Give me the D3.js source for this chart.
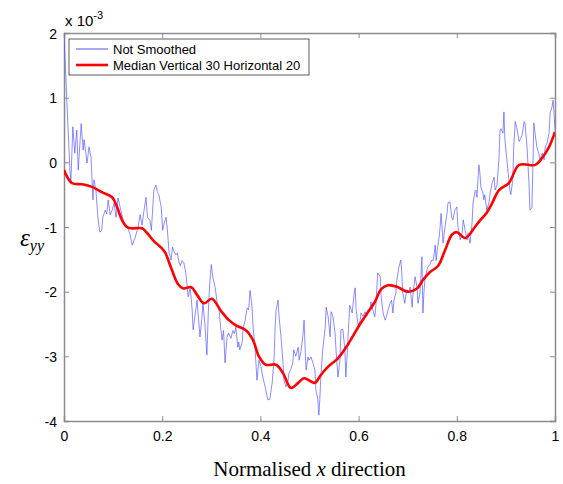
<!DOCTYPE html>
<html>
<head>
<meta charset="utf-8">
<script src="https://cdnjs.cloudflare.com/ajax/libs/d3/7.8.5/d3.min.js"></script>
<style>
  body { margin: 0; background: #fff; }
  svg { display: block; }
  .tick text { font-family: Arial, "Liberation Sans", sans-serif; font-size: 14px; fill: #000; }
</style>
</head>
<body>
<div id="chart"></div>
<script>
// x ticks and y ticks (y in units of 1e-3)
const xTicks = [0, 0.2, 0.4, 0.6, 0.8, 1];
const yTicks = [-4, -3, -2, -1, 0, 1, 2];
const legendLabels = ["Not Smoothed", "Median Vertical 30 Horizontal 20"];

// raw strain (x normalised, eps_yy * 1e3)
const notSmoothed = [
  [0.000, 2.0], [0.0055, 1.0], [0.012, -0.12], [0.014, -0.32], [0.018, 0.55], [0.022, 0.14],
  [0.026, 0.5], [0.029, -0.12], [0.035, 0.6], [0.039, 0.19], [0.041, 0.35], [0.047, -0.01],
  [0.051, 0.24], [0.055, 0.08], [0.059, -0.58], [0.061, -0.27], [0.065, -0.43], [0.069, -0.85],
  [0.073, -1.08], [0.077, -1.05], [0.079, -0.85], [0.084, -0.74], [0.087, -0.8], [0.09, -0.58],
  [0.094, -0.81], [0.098, -0.74], [0.102, -0.63], [0.106, -0.85], [0.11, -0.55], [0.116, -0.75],
  [0.122, -0.94], [0.128, -0.98], [0.134, -1.1], [0.139, -1.28], [0.145, -1.16], [0.151, -1.0],
  [0.155, -0.81], [0.159, -0.97], [0.163, -0.74], [0.167, -0.54], [0.17, -0.85], [0.175, -0.9],
  [0.178, -1.05], [0.183, -0.43], [0.187, -0.35], [0.19, -0.45], [0.193, -0.5], [0.198, -0.69],
  [0.201, -1.05], [0.204, -0.94], [0.208, -0.85], [0.211, -1.09], [0.214, -1.4], [0.218, -1.51],
  [0.221, -1.31], [0.224, -1.38], [0.228, -1.43], [0.231, -1.4], [0.234, -1.54], [0.237, -1.6],
  [0.24, -1.52], [0.244, -1.55], [0.248, -1.71], [0.251, -1.93], [0.253, -2.08], [0.257, -1.94],
  [0.261, -2.28], [0.263, -2.59], [0.267, -2.36], [0.271, -2.13], [0.273, -2.33], [0.277, -2.7],
  [0.281, -2.39], [0.283, -2.18], [0.287, -2.5], [0.291, -2.98], [0.294, -2.3], [0.297, -1.85],
  [0.3, -1.58], [0.303, -1.77], [0.308, -1.94], [0.312, -2.18], [0.316, -2.3], [0.319, -2.55],
  [0.322, -2.75], [0.325, -2.6], [0.328, -3.1], [0.332, -2.7], [0.335, -2.64], [0.34, -2.72],
  [0.344, -2.6], [0.347, -2.65], [0.35, -2.55], [0.354, -2.86], [0.356, -2.78], [0.358, -2.9],
  [0.363, -2.78], [0.365, -2.56], [0.369, -2.44], [0.373, -2.25], [0.376, -2.28], [0.379, -1.98],
  [0.383, -2.24], [0.385, -2.55], [0.389, -2.86], [0.393, -3.37], [0.395, -3.21], [0.397, -3.06],
  [0.401, -3.16], [0.405, -3.32], [0.411, -3.52], [0.415, -3.67], [0.419, -3.67], [0.424, -3.41],
  [0.428, -3.01], [0.43, -2.55], [0.432, -2.28], [0.436, -2.13], [0.438, -2.39], [0.442, -2.7],
  [0.446, -3.1], [0.448, -3.37], [0.452, -3.47], [0.456, -3.4], [0.458, -3.26], [0.462, -3.2],
  [0.466, -3.1], [0.468, -2.9], [0.472, -3.0], [0.477, -2.86], [0.479, -3.06], [0.483, -2.9],
  [0.487, -2.64], [0.489, -2.44], [0.491, -2.86], [0.493, -3.21], [0.497, -3.01], [0.499, -3.06],
  [0.503, -3.01], [0.507, -3.1], [0.511, -3.21], [0.513, -3.52], [0.517, -3.67], [0.519, -3.91],
  [0.521, -3.67], [0.523, -3.32], [0.527, -2.9], [0.532, -2.55], [0.534, -2.24], [0.538, -2.39],
  [0.542, -2.7], [0.544, -2.31], [0.548, -2.39], [0.552, -2.64], [0.554, -2.9], [0.558, -3.32],
  [0.562, -3.06], [0.564, -2.59], [0.568, -2.58], [0.572, -2.9], [0.574, -3.32], [0.576, -3.06],
  [0.58, -2.49], [0.582, -2.21], [0.587, -2.33], [0.591, -2.02], [0.593, -1.94], [0.595, -2.28],
  [0.599, -2.52], [0.603, -2.45], [0.605, -2.33], [0.609, -2.38], [0.613, -2.31], [0.617, -2.38],
  [0.619, -2.28], [0.623, -2.3], [0.625, -2.16], [0.629, -2.28], [0.633, -2.39], [0.635, -2.24],
  [0.639, -1.71], [0.644, -1.77], [0.646, -2.08], [0.65, -2.33], [0.654, -2.44], [0.657, -2.38],
  [0.66, -2.28], [0.664, -2.18], [0.667, -2.13], [0.67, -2.33], [0.672, -2.13], [0.676, -2.02],
  [0.678, -1.82], [0.682, -1.62], [0.686, -1.51], [0.688, -1.71], [0.69, -2.02], [0.694, -2.18],
  [0.698, -1.97], [0.702, -2.0], [0.705, -1.93], [0.709, -2.24], [0.711, -2.02], [0.715, -1.77],
  [0.719, -1.93], [0.721, -2.18], [0.725, -2.02], [0.729, -1.46], [0.731, -2.33], [0.733, -2.02],
  [0.735, -1.82], [0.739, -1.67], [0.741, -1.62], [0.745, -1.58], [0.749, -1.51], [0.752, -1.52],
  [0.756, -1.28], [0.758, -1.52], [0.76, -1.36], [0.764, -1.16], [0.766, -1.0], [0.768, -0.79],
  [0.77, -1.0], [0.772, -1.25], [0.776, -1.0], [0.78, -0.79], [0.782, -0.63], [0.786, -0.61],
  [0.79, -0.86], [0.792, -0.89], [0.796, -0.74], [0.8, -0.69], [0.802, -0.97], [0.807, -1.2],
  [0.811, -1.09], [0.813, -0.89], [0.817, -1.05], [0.821, -1.2], [0.823, -1.1], [0.827, -1.25],
  [0.831, -0.94], [0.833, -0.63], [0.837, -0.45], [0.839, -0.43], [0.841, -0.54], [0.845, -0.04],
  [0.847, -0.16], [0.849, -0.38], [0.853, -0.47], [0.855, -0.58], [0.857, -0.5], [0.861, -0.74],
  [0.866, -0.6], [0.868, -0.47], [0.872, -0.32], [0.876, -0.23], [0.878, -0.43], [0.882, -0.35],
  [0.886, 0.08], [0.888, 0.5], [0.89, 0.52], [0.894, 0.45], [0.896, 0.78], [0.898, 0.35],
  [0.902, 0.04], [0.906, -0.27], [0.908, -0.43], [0.91, -0.5], [0.914, -0.27], [0.916, 0.24],
  [0.919, 0.63], [0.923, 0.5], [0.927, 0.32], [0.929, 0.35], [0.933, 0.42], [0.937, 0.63],
  [0.939, 0.6], [0.943, 0.24], [0.947, -0.32], [0.949, -0.74], [0.953, -0.7], [0.957, 0.61],
  [0.959, 0.47], [0.963, 0.24], [0.967, 0.14], [0.969, 0.04], [0.974, 0.14], [0.978, 0.04],
  [0.98, 0.24], [0.984, 0.3], [0.988, 0.45], [0.99, 0.76], [0.994, 0.86], [0.996, 0.96],
  [0.998, 0.76], [1.0, 0.5]
];

// median-filtered strain
const medianSmoothed = [
  [0, -0.12], [0.016, -0.32], [0.037, -0.34], [0.057, -0.38], [0.077, -0.46], [0.098, -0.54],
  [0.108, -0.69], [0.118, -0.89], [0.128, -1.0], [0.138, -1.02], [0.159, -1.02], [0.17, -1.1],
  [0.183, -1.22], [0.204, -1.37], [0.218, -1.63], [0.232, -1.88], [0.243, -1.95], [0.259, -1.93],
  [0.271, -2.05], [0.285, -2.18], [0.301, -2.11], [0.32, -2.3], [0.336, -2.44], [0.35, -2.52],
  [0.371, -2.6], [0.385, -2.75], [0.397, -3.0], [0.411, -3.13], [0.432, -3.13], [0.446, -3.26],
  [0.462, -3.49], [0.477, -3.41], [0.489, -3.34], [0.503, -3.39], [0.511, -3.41], [0.523, -3.29],
  [0.538, -3.16], [0.558, -3.03], [0.578, -2.82], [0.599, -2.55], [0.615, -2.36], [0.633, -2.16],
  [0.646, -1.96], [0.66, -1.9], [0.68, -1.93], [0.7, -2.0], [0.719, -1.95], [0.731, -1.82],
  [0.745, -1.7], [0.762, -1.6], [0.776, -1.36], [0.79, -1.12], [0.8, -1.08], [0.817, -1.17],
  [0.837, -1.0], [0.845, -0.92], [0.861, -0.78], [0.872, -0.63], [0.886, -0.43], [0.906, -0.32],
  [0.927, -0.04], [0.96, -0.04], [0.974, 0.07], [0.988, 0.24], [1.0, 0.47]
];

const W = 563, H = 484;
const margin = { left: 64, right: 8, top: 33, bottom: 63 };

const svg = d3.select("#chart").append("svg")
  .attr("width", W)
  .attr("height", H);

const x = d3.scaleLinear().domain([0, 1]).range([margin.left, W - margin.right]);
const y = d3.scaleLinear().domain([-4, 2]).range([H - margin.bottom, margin.top]);

const axisColor = "#8c8c8c";

svg.append("defs").append("clipPath").attr("id", "plot-clip")
  .append("rect")
  .attr("x", x(0)).attr("y", y(2))
  .attr("width", x(1) - x(0)).attr("height", y(-4) - y(2));

// axes (MATLAB style box, ticks inside)
const xAxis = svg.append("g")
  .attr("transform", `translate(0,${y(-4)})`)
  .call(d3.axisBottom(x).tickValues(xTicks).tickSize(-5).tickPadding(10)
    .tickFormat(d => String(+d.toFixed(1))));
const xAxisTop = svg.append("g")
  .attr("transform", `translate(0,${y(2)})`)
  .call(d3.axisTop(x).tickValues(xTicks).tickSize(-5).tickFormat(""));
const yAxis = svg.append("g")
  .attr("transform", `translate(${x(0)},0)`)
  .call(d3.axisLeft(y).tickValues(yTicks).tickSize(-5).tickPadding(7)
    .tickFormat(d => String(d)));
const yAxisRight = svg.append("g")
  .attr("transform", `translate(${x(1)},0)`)
  .call(d3.axisRight(y).tickValues(yTicks).tickSize(-5).tickFormat(""));

[xAxis, xAxisTop, yAxis, yAxisRight].forEach(g => {
  g.select(".domain").attr("stroke", axisColor).attr("stroke-width", 1.5);
  g.selectAll(".tick line").attr("stroke", axisColor);
});
yAxis.selectAll(".tick text").attr("dy", "0.36em");

// exponent label
const expo = svg.append("text")
  .attr("x", x(0) + 1)
  .attr("y", y(2) - 7)
  .attr("font-family", "Arial, 'Liberation Sans', sans-serif")
  .attr("font-size", 15);
expo.append("tspan").text("x 10");
expo.append("tspan").attr("dy", -7).attr("font-size", 11).text("-3");

// lines
const line = d3.line()
  .x(d => x(d[0]))
  .y(d => y(d[1]));

const plot = svg.append("g").attr("clip-path", "url(#plot-clip)");

plot.append("path")
  .datum(notSmoothed)
  .attr("fill", "none")
  .attr("stroke", "#5555ff")
  .attr("stroke-opacity", 0.85)
  .attr("stroke-width", 0.8)
  .attr("stroke-linejoin", "round")
  .attr("d", line);

plot.append("path")
  .datum(medianSmoothed)
  .attr("fill", "none")
  .attr("stroke", "#ff0000")
  .attr("stroke-width", 2.6)
  .attr("stroke-linejoin", "round")
  .attr("d", line.curve(d3.curveCatmullRom.alpha(0.5)));

// legend
const legend = svg.append("g").attr("transform", "translate(69,39)");
legend.append("rect")
  .attr("width", 240).attr("height", 36)
  .attr("fill", "#fff")
  .attr("stroke", "#333").attr("stroke-width", 0.8);
const legendStyles = [
  { color: "#5555ff", width: 1 },
  { color: "#ff0000", width: 2.6 }
];
legendLabels.forEach((label, i) => {
  const row = legend.append("g").attr("transform", `translate(0,${10 + i * 16})`);
  row.append("line")
    .attr("x1", 7).attr("x2", 39)
    .attr("stroke", legendStyles[i].color)
    .attr("stroke-width", legendStyles[i].width);
  row.append("text")
    .attr("x", 44).attr("dy", "0.35em")
    .attr("font-family", "Arial, 'Liberation Sans', sans-serif")
    .attr("font-size", 13)
    .text(label);
});

// axis titles
const xt = svg.append("text")
  .attr("x", (x(0) + x(1)) / 2)
  .attr("y", 476)
  .attr("text-anchor", "middle")
  .attr("font-family", "'Times New Roman', 'Liberation Serif', serif")
  .attr("font-size", 21);
xt.append("tspan").text("Normalised ");
xt.append("tspan").attr("font-style", "italic").text("x");
xt.append("tspan").text(" direction");

const yt = svg.append("text")
  .attr("x", 20)
  .attr("y", 246)
  .attr("font-family", "'Times New Roman', 'Liberation Serif', serif")
  .attr("font-style", "italic")
  .attr("font-size", 25);
yt.append("tspan").text("ε");
yt.append("tspan").attr("dy", 5).attr("font-size", 16).text("yy");
</script>
</body>
</html>
